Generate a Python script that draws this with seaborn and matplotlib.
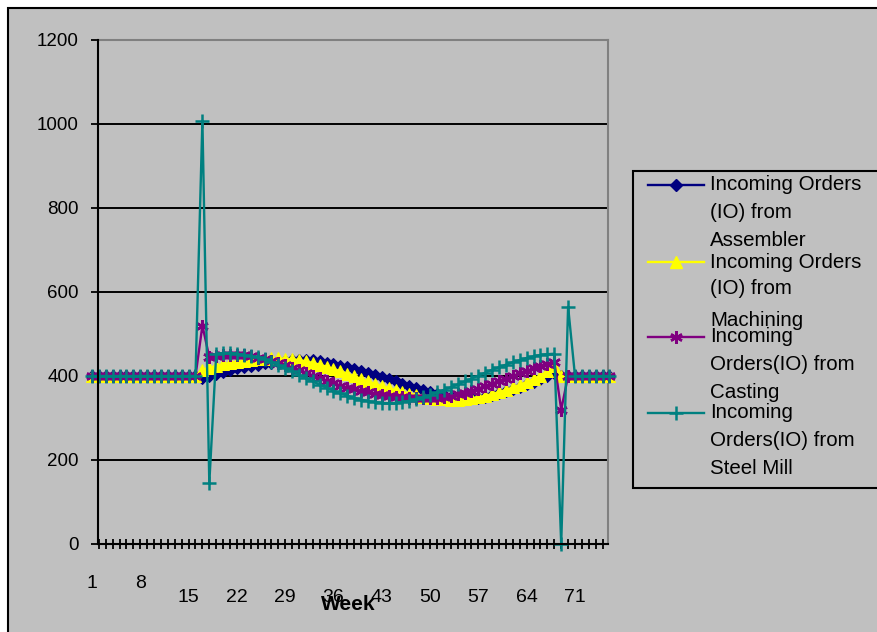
"""Recreate the Excel-style bullwhip chart of incoming orders per week."""
import matplotlib

matplotlib.use("Agg")
import matplotlib.pyplot as plt
import matplotlib.transforms as mtransforms
from matplotlib.lines import Line2D
from matplotlib.patches import Rectangle
import seaborn as sns

#####################################
# Data
#####################################

weeks = list(range(1, 77))

assembler = [
    400, 400, 400, 400, 400, 400, 400, 400, 400, 400, 400, 400, 400, 400, 400, 400,
    396, 399, 404, 410, 414, 418, 421, 424, 427, 430, 432, 434, 436, 437, 438, 438,
    437, 435, 432, 429, 425, 421, 417, 412, 407, 402, 397, 392, 387, 382, 377, 372,
    367, 362, 358, 354, 351, 349, 347, 347, 348, 350, 354, 359, 364, 369, 374, 380,
    386, 392, 399, 406,
    400, 400, 400, 400, 400, 400, 400, 400,
]
machining = [
    400, 400, 400, 400, 400, 400, 400, 400, 400, 400, 400, 400, 400, 400, 400, 400,
    415, 420, 424, 428, 431, 434, 436, 438, 440, 441, 442, 442, 441, 440, 438, 435,
    431, 427, 422, 417, 411, 405, 399, 393, 387, 381, 376, 371, 366, 362, 358, 354,
    351, 348, 346, 345, 344, 344, 345, 347, 350, 353, 357, 362, 367, 373, 379, 386,
    393, 401, 411, 424,
    400, 400, 400, 400, 400, 400, 400, 400,
]
casting = [
    400, 400, 400, 400, 400, 400, 400, 400, 400, 400, 400, 400, 400, 400, 400, 400,
    520, 445, 447, 449, 450, 450, 449, 447, 444, 440, 436, 431, 426, 420, 414, 408,
    401, 395, 389, 383, 377, 372, 368, 365, 361, 358, 355, 353, 351, 349, 348, 347,
    347, 347, 348, 350, 353, 356, 360, 365, 370, 376, 382, 388, 394, 400, 406, 412,
    418, 424, 429, 434,
    320, 400, 400, 400, 400, 400, 400, 400,
]
steel_mill = [
    400, 400, 400, 400, 400, 400, 400, 400, 400, 400, 400, 400, 400, 400, 400, 400,
    1008, 145, 452, 455, 455, 453, 450, 447, 445, 440, 434, 427, 419, 411, 403, 395,
    387, 379, 372, 365, 359, 353, 348, 344, 340, 338, 336, 335, 336, 338, 341, 345,
    349, 354, 361, 367, 373, 380, 387, 394, 401, 408, 415, 421, 427, 433, 438, 443,
    447, 450, 452, 453,
    0, 565, 400, 400, 400, 400, 400, 400,
]

legend_labels = [
    ["Incoming Orders", "(IO) from", "Assembler"],
    ["Incoming Orders", "(IO) from", "Machining"],
    ["Incoming", "Orders(IO) from", "Casting"],
    ["Incoming", "Orders(IO) from", "Steel Mill"],
]
week_ticks = [1, 8, 15, 22, 29, 36, 43, 50, 57, 64, 71]

#####################################
# Styles
#####################################

series = [
    (assembler, "#000080", dict(marker="D", markersize=6)),
    (machining, "#FFFF00", dict(marker="^", markersize=8)),
    (casting, "#800080", dict(marker=(6, 2, 0), markersize=9, markeredgewidth=1.8)),
    (steel_mill, "#008080", dict(marker="+", markersize=10, markeredgewidth=1.8)),
]

W, H = 878, 632
GRAY = "#C0C0C0"

plt.rcParams["font.family"] = ["Liberation Sans", "DejaVu Sans"]

fig = plt.figure(figsize=(W / 100, H / 100), dpi=100)
fig.patch.set_facecolor("white")

# chart area with its border (right and bottom are cut in the reference)
fig.add_artist(Rectangle((8 / W, -0.01), 1.0, 1 - 8 / H + 0.01,
                         transform=fig.transFigure, facecolor=GRAY,
                         edgecolor="black", linewidth=1.5, zorder=0))

ax = fig.add_axes([98 / W, 1 - 544 / H, (608 - 98) / W, 504 / H])
ax.set_facecolor(GRAY)

for values, color, style in series:
    sns.lineplot(x=weeks, y=values, color=color, linewidth=1.7,
                 markeredgecolor=color, markerfacecolor=color,
                 clip_on=False, ax=ax, zorder=3, **style)

ax.set_xticks(weeks)
ax.set_xticklabels([])
ax.tick_params(axis="x", direction="inout", length=7, width=1.3)
# week 1 sits just left of the value axis, as in the Excel original
ax.set_xlim(1 + 6 / 6.9, 1 + 516 / 6.9)
ax.set_ylim(0, 1200)
ax.set_yticks(range(0, 1201, 200))
ax.yaxis.grid(True, color="black", linewidth=1.4)
ax.set_axisbelow(True)
ax.tick_params(axis="y", direction="out", length=5, width=1.3,
               labelsize=13.5, pad=9, colors="black")

for side in ("left", "bottom"):
    ax.spines[side].set_color("black")
    ax.spines[side].set_linewidth(1.5)
    ax.spines[side].set_zorder(4)
for side in ("top", "right"):
    ax.spines[side].set_color("#808080")
    ax.spines[side].set_linewidth(1.5)

# staggered week labels, as Excel drew them
trans = mtransforms.blended_transform_factory(ax.transData, fig.transFigure)
for wk in week_ticks:
    ypix = 584 if wk < 15 else 597
    ax.text(wk, 1 - ypix / H, str(wk), transform=trans, ha="center",
            va="center", fontsize=14, clip_on=False)

fig.text(348 / W, 1 - 604 / H, "Week", ha="center", va="center",
         fontsize=15, fontweight="bold")

# legend box drawn by hand to keep Excel's overlapping wrapped labels
fig.add_artist(Rectangle((633 / W, 1 - 488 / H), (W - 633 + 5) / W, (488 - 171) / H,
                         transform=fig.transFigure, facecolor=GRAY,
                         edgecolor="black", linewidth=1.5, zorder=5))
line_ys = [[185, 213, 240], [262, 288, 320], [337, 365, 392], [413, 440, 469]]
for (values, color, style), lines, ys in zip(series, legend_labels, line_ys):
    y0 = 1 - ys[0] / H
    fig.add_artist(Line2D([648 / W, 676 / W, 704 / W], [y0, y0, y0],
                          transform=fig.transFigure, color=color, linewidth=1.7,
                          markevery=[1], markeredgecolor=color,
                          markerfacecolor=color, zorder=6, **style))
    for text, yp in zip(lines, ys):
        fig.text(710 / W, 1 - yp / H, text, ha="left", va="center",
                 fontsize=14.8, zorder=7)

fig.savefig("out.png", dpi=100, facecolor=fig.get_facecolor())
